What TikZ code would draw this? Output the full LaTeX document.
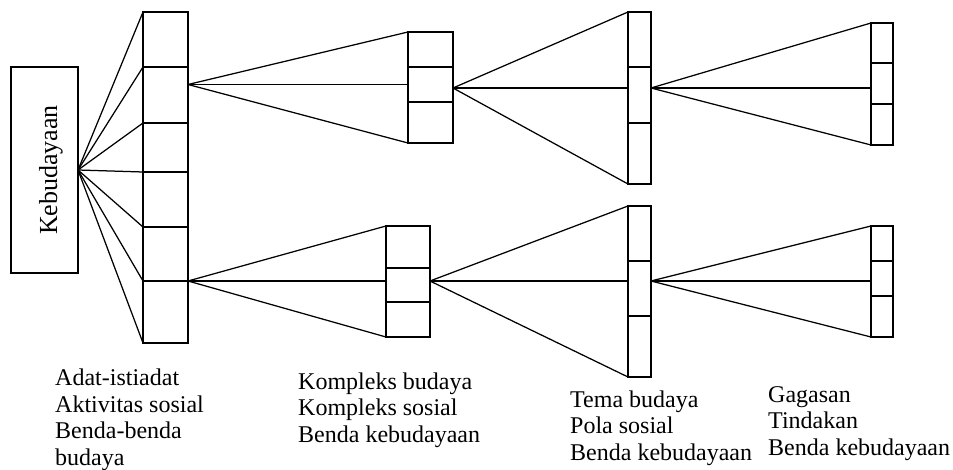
\documentclass[tikz,border=0pt]{standalone}
\usepackage{fontspec}
\setmainfont{Liberation Serif}
\newcommand\capfont{\fontsize{24}{26.5}\selectfont}
\begin{document}
\begin{tikzpicture}[x=1pt,y=-1pt,
    cell/.style ={draw, line width=1.3pt, inner sep=0pt, outer sep=0pt},
    link/.style ={line width=1.25pt},
    caption/.style ={anchor=base west, align=left, inner sep=0pt, font=\capfont}]
   \useasboundingbox (0,0) rectangle (953,470);
   % root box
   \node[cell, rotate=90, minimum width=206pt, minimum height=67pt, text height=25pt, text depth=0pt,
         font=\fontsize{26}{30}\selectfont] (keb) at (44.5,170) {Kebudayaan};
   % first stack
   \foreach \i/\ya/\yb in {1/12/67,2/67/123,3/123/172,4/172/227,5/227/281,6/281/343}
     \node[cell, minimum width=45pt, minimum height={(\yb-\ya)*1pt}] (A\i) at (165.5,{(\ya+\yb)/2}) {};
   % upper row
   \foreach \i/\ya/\yb in {1/32/67,2/67/102,3/102/143}
     \node[cell, minimum width=45pt, minimum height={(\yb-\ya)*1pt}] (B\i) at (430.5,{(\ya+\yb)/2}) {};
   \foreach \i/\ya/\yb in {1/12/67,2/67/123,3/123/184}
     \node[cell, minimum width=23pt, minimum height={(\yb-\ya)*1pt}] (C\i) at (639.5,{(\ya+\yb)/2}) {};
   \foreach \i/\ya/\yb in {1/23/63,2/63/104,3/104/145}
     \node[cell, minimum width=22pt, minimum height={(\yb-\ya)*1pt}] (D\i) at (882,{(\ya+\yb)/2}) {};
   % lower row
   \foreach \i/\ya/\yb in {1/226/268,2/268/302,3/302/337}
     \node[cell, minimum width=44pt, minimum height={(\yb-\ya)*1pt}] (E\i) at (408,{(\ya+\yb)/2}) {};
   \foreach \i/\ya/\yb in {1/206/261,2/261/316,3/316/377}
     \node[cell, minimum width=23pt, minimum height={(\yb-\ya)*1pt}] (F\i) at (639.5,{(\ya+\yb)/2}) {};
   \foreach \i/\ya/\yb in {1/226/261,2/261/296,3/296/337}
     \node[cell, minimum width=22pt, minimum height={(\yb-\ya)*1pt}] (G\i) at (882,{(\ya+\yb)/2}) {};
   % fan out of the root
   \foreach \i in {1,...,6}
     \draw[link] (keb.south) -- (A\i.north west);
   \draw[link] (keb.south) -- (A6.south west);
   % upper fans
   \coordinate (ab) at (B2.west -| A2.east);
   \draw[link] (ab) -- (B1.north west);
   \draw[link] (ab) -- (B2.west);
   \draw[link] (ab) -- (B3.south west);
   \coordinate (bc) at (453,88);
   \draw[link] (bc) -- (C1.north west);
   \draw[link] (bc) -- (bc -| C2.west);
   \draw[link] (bc) -- (C3.south west);
   \coordinate (cd) at (bc -| C2.east);
   \draw[link] (cd) -- (D1.north west);
   \draw[link] (cd) -- (cd -| D2.west);
   \draw[link] (cd) -- (D3.south west);
   % lower fans
   \coordinate (ae) at (A6.north east);
   \draw[link] (ae) -- (E1.north west);
   \draw[link] (ae) -- (ae -| E2.west);
   \draw[link] (ae) -- (E3.south west);
   \coordinate (ef) at (ae -| E2.east);
   \draw[link] (ef) -- (F1.north west);
   \draw[link] (ef) -- (ef -| F2.west);
   \draw[link] (ef) -- (F3.south west);
   \coordinate (fg) at (ae -| F2.east);
   \draw[link] (fg) -- (G1.north west);
   \draw[link] (fg) -- (fg -| G2.west);
   \draw[link] (fg) -- (G3.south west);
   % captions (anchored at the last line)
   \node[caption] (adat) at (55,465) {Adat-istiadat\\Aktivitas sosial\\Benda-benda\\budaya};
   \node[caption] (kompleks) at (298,442) {Kompleks budaya\\Kompleks sosial\\Benda kebudayaan};
   \node[caption] (tema) at (570,460) {Tema budaya\\Pola sosial\\Benda kebudayaan};
   \node[caption] (gagasan) at (768,455) {Gagasan\\Tindakan\\Benda kebudayaan};
\end{tikzpicture}
\end{document}
